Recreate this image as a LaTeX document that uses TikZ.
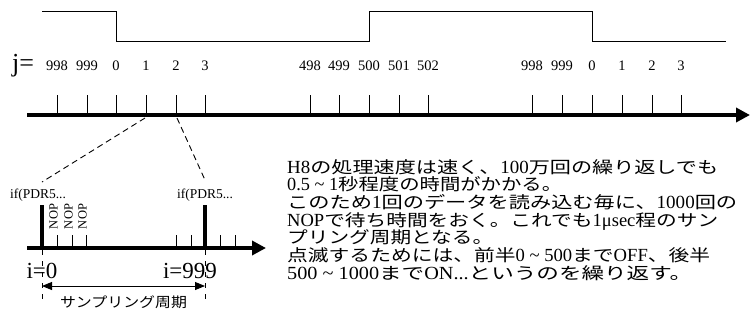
\documentclass[tikz,border=0pt]{standalone}
\usepackage{fontspec}
\usepackage{graphicx}
\setmainfont{Liberation Serif}
\newfontfamily\jp[FakeStretch=1.25]{Noto Sans CJK JP}
\usetikzlibrary{arrows.meta}
\newcommand\jt[1]{{\fontsize{16.5}{17.7}\jp #1}}
\newsavebox\linebox
\newcommand\fitw[2]{\sbox\linebox{#2}\pgfmathsetmacro\fitfac{#1/\the\wd\linebox}\scalebox{\fitfac}[1]{\usebox\linebox}}
\begin{document}
\begin{tikzpicture}[x=1pt,y=-1pt,
  thinline/.style={line width=0.9pt},
  axisline/.style={line width=4pt},
  barline/.style={line width=3.6pt},
  num/.style={font=\fontsize{14.5}{16}\selectfont, inner sep=0, anchor=base},
  diag/.style={line width=0.9pt, dash pattern=on 6pt off 4pt},
  vdash/.style={line width=0.9pt, dash pattern=on 5pt off 6pt},
  small/.style={font=\fontsize{13.5}{14}\selectfont, inner sep=0, anchor=base},
  nop/.style={font=\fontsize{12.5}{13}\selectfont, inner sep=0, anchor=base, rotate=90},
  ilab/.style={font=\fontsize{23}{24}\selectfont, inner sep=0, anchor=base},
  txt/.style={font=\fontsize{18.5}{17.7}\selectfont, inner sep=0, anchor=base west},
  bigtip/.style={-{Triangle[length=14pt,width=14pt]}},
  dbl/.style={{Triangle[length=10pt,width=8pt]}-{Triangle[length=10pt,width=8pt]}}
]
\useasboundingbox (0,0) rectangle (750,325);

% waveform
\draw[thinline] (42,11) -- (116,11) -- (116,41) -- (369,41) -- (369,11) -- (592,11) -- (592,41) -- (726,41);

% top axis
\coordinate (ta0) at (27,115);
\coordinate (ta1) at (750,115);
\draw[axisline,bigtip] (ta0) -- (ta1);

\node[font=\fontsize{26}{28}\selectfont, inner sep=0, anchor=base west] (jlab) at (12,71) {j=};

\foreach \x/\l [count=\k] in {57/998, 87/999, 116/0, 146/1, 176/2, 205/3, 310/498, 339/499, 369/500, 399/501, 428/502, 532/998, 562/999, 592/0, 622/1, 652/2, 681/3}{
  \node[num] (n\k) at (\x,70.5) {\l};
  \draw[thinline] (\x,95) -- (\x,113);
}

% zoom dashed lines
\coordinate (d1a) at (145,118);
\coordinate (d1b) at (42,182);
\coordinate (d2a) at (177,118);
\coordinate (d2b) at (205,180);
\draw[diag] (d1a) -- (d1b);
\draw[diag] (d2a) -- (d2b);

% lower axis
\coordinate (la0) at (27,248);
\coordinate (la1) at (266,248);
\draw[axisline,bigtip] (la0) -- (la1);

\node[small] (if1) at (38,198) {if(PDR5...};
\node[small] (if2) at (205,198) {if(PDR5...};
\draw[barline] (42,205) -- (42,247);
\draw[barline] (205,205) -- (205,247);

\foreach \x in {57,72,86,176,191,220,235}{
  \draw[thinline] (\x,235) -- (\x,247);
}
\node[nop] (nop1) at (57.5,216.5) {NOP};
\node[nop] (nop2) at (72.5,216.5) {NOP};
\node[nop] (nop3) at (86.5,216.5) {NOP};

\node[ilab] (i0) at (42,278) {i=0};
\node[ilab] (i999) at (190,278) {i=999};

\draw[vdash] (42,250) -- (42,304);
\draw[vdash] (205,250) -- (205,304);
\coordinate (p0) at (42,286);
\coordinate (p1) at (205,286);
\draw[thinline,dbl] (p0) -- (p1);
\node[font=\fontsize{14}{15}\jp, inner sep=0] (period) at (123.5,302) {\fitw{127}{サンプリング周期}};

% explanation text
\node[txt] (t1) at (287,173) {\fitw{431}{H8\jt{の処理速度は速く、}100\jt{万回の繰り返しでも}}};
\node[txt] (t2) at (287,190.7) {\fitw{275}{0.5 \textasciitilde{} 1\jt{秒程度の時間がかかる。}}};
\node[txt] (t3) at (287,208.4) {\fitw{450}{\jt{このため}1\jt{回のデータを読み込む毎に、}1000\jt{回の}}};
\node[txt] (t4) at (287,226.1) {\fitw{431}{NOP\jt{で待ち時間をおく。これでも}1μsec\jt{程のサン}}};
\node[txt] (t5) at (287,243.8) {\fitw{206}{\jt{プリング周期となる。}}};
\node[txt] (t6) at (287,261.5) {\fitw{423}{\jt{点滅するためには、前半}0 \textasciitilde{} 500\jt{まで}OFF\jt{、後半}}};
\node[txt] (t7) at (287,279.2) {\fitw{405}{500 \textasciitilde{} 1000\jt{まで}ON...\jt{というのを繰り返す。}}};
\end{tikzpicture}
\end{document}
